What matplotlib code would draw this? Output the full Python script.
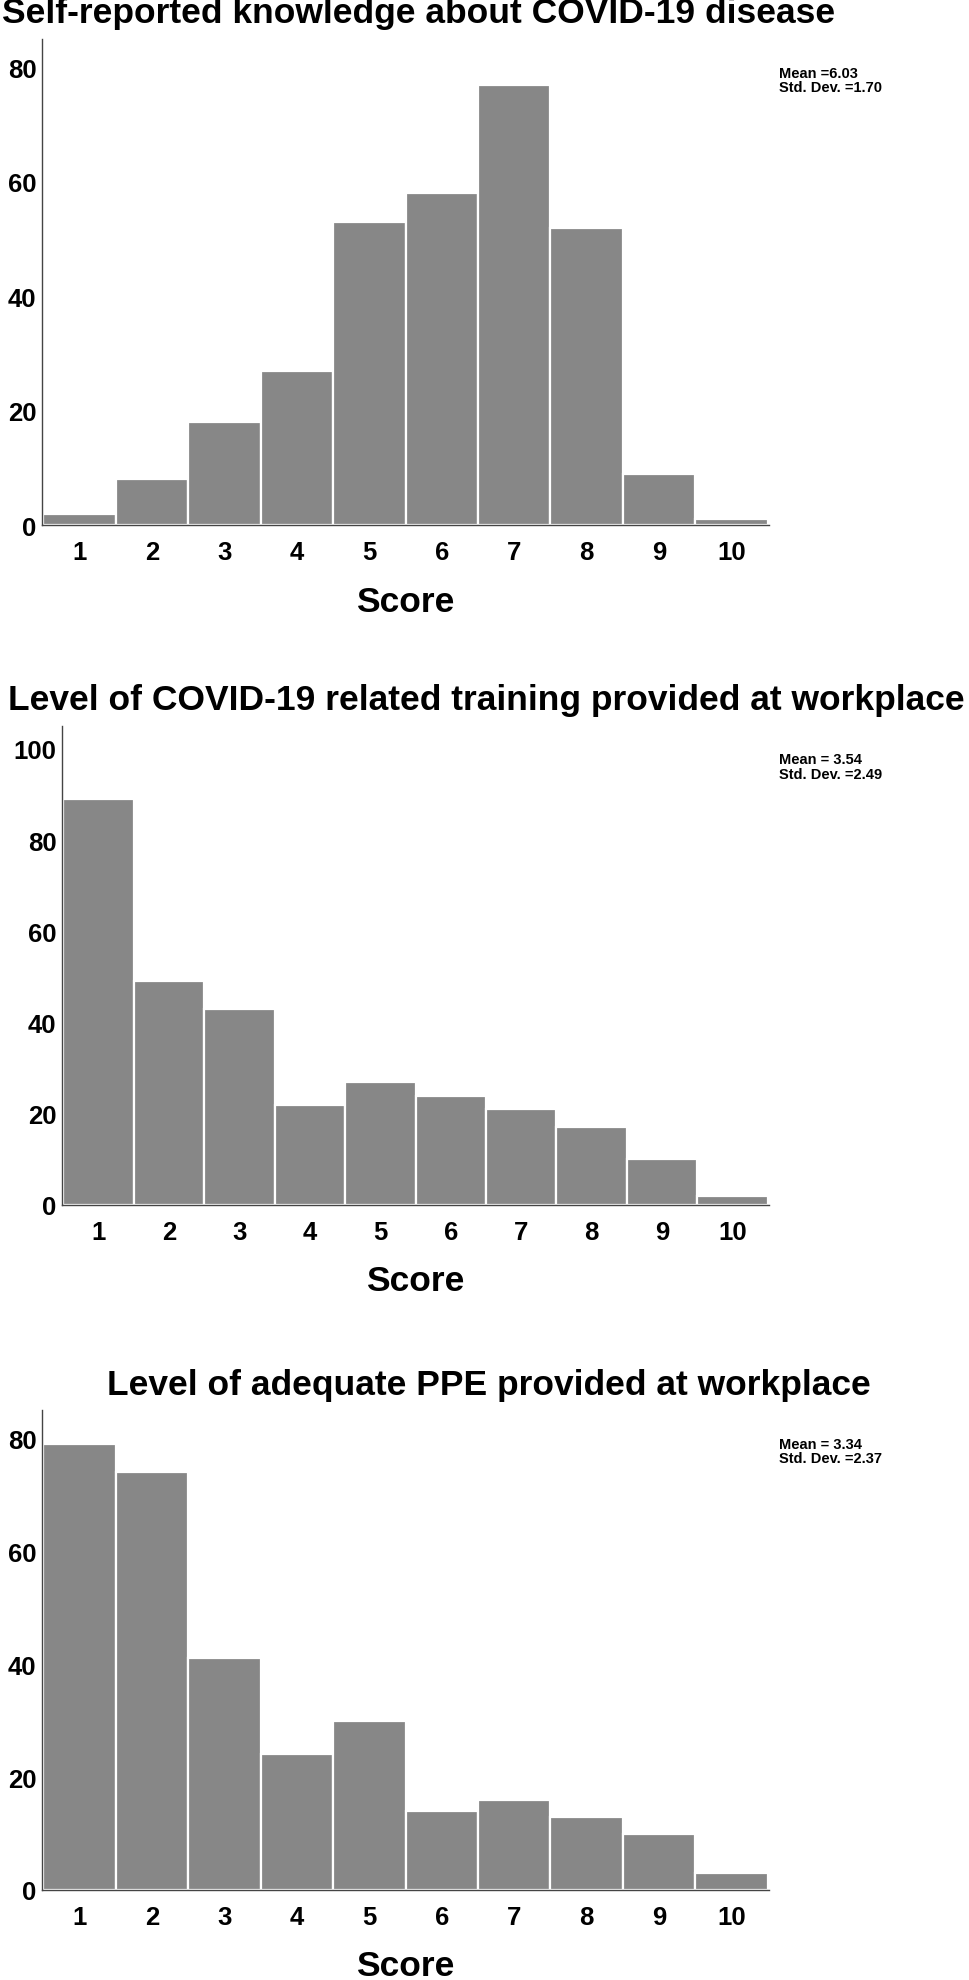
import matplotlib
matplotlib.use("Agg")
import matplotlib.pyplot as plt

plt.rcParams['font.family'] = ['Liberation Sans', 'DejaVu Sans']
plt.rcParams['font.weight'] = 'bold'

scores = [1, 2, 3, 4, 5, 6, 7, 8, 9, 10]
knowledge_counts = [2, 8, 18, 27, 53, 58, 77, 52, 9, 1]
training_counts = [89, 49, 43, 22, 27, 24, 21, 17, 10, 2]
ppe_counts = [79, 74, 41, 24, 30, 14, 16, 13, 10, 3]

titles = ["Self-reported knowledge about COVID-19 disease",
          "Level of COVID-19 related training provided at workplace",
          "Level of adequate PPE provided at workplace"]
stats = [("Mean =6.03", "Std. Dev. =1.70"),
         ("Mean = 3.54", "Std. Dev. =2.49"),
         ("Mean = 3.34", "Std. Dev. =2.37")]
yticks_list = [[0, 20, 40, 60, 80], [0, 20, 40, 60, 80, 100], [0, 20, 40, 60, 80]]
ylims = [85, 105, 85]
series = [knowledge_counts, training_counts, ppe_counts]

W, H = 969, 1981
fig = plt.figure(figsize=(W / 100, H / 100), dpi=100)

# axes boxes in pixels: left, right, top, bottom
boxes = [(42, 769, 40, 526), (62, 769, 727, 1206), (42, 769, 1411, 1891)]
title_pos = [(419, 23.5), (486, 710), (489, 1395)]
stat_pos = [(779, 74, 88), (779, 760, 775), (779, 1445, 1459)]

bar_color = "#878787"
for i in range(3):
    l, r, t, b = boxes[i]
    ax = fig.add_axes([l / W, 1 - b / H, (r - l) / W, (b - t) / H])
    ax.bar(scores, series[i], width=1.0, color=bar_color, edgecolor="white", linewidth=1.6)
    ax.set_xlim(0.48, 10.52)
    ax.set_ylim(0, ylims[i])
    ax.set_xticks(scores)
    ax.set_xticklabels([str(s) for s in scores], fontsize=18.5, fontweight='bold')
    ax.set_yticks(yticks_list[i])
    ax.set_yticklabels([str(v) for v in yticks_list[i]], fontsize=18.5, fontweight='bold')
    ax.tick_params(axis='both', length=0)
    ax.tick_params(axis='x', pad=11)
    ax.tick_params(axis='y', pad=4)
    for s in ['top', 'right']:
        ax.spines[s].set_visible(False)
    for s in ['left', 'bottom']:
        ax.spines[s].set_color("#444444")
        ax.spines[s].set_linewidth(1.0)
    ax.text(0.5, -76 / (b - t), "Score", transform=ax.transAxes, ha='center', va='center',
            fontsize=25.5, fontweight='bold')
    tx, ty = title_pos[i]
    fig.text(tx / W, 1 - ty / H, titles[i], ha='center', va='baseline', fontsize=25.5, fontweight='bold')
    sx, sy1, sy2 = stat_pos[i]
    fig.text(sx / W, 1 - sy1 / H, stats[i][0], ha='left', va='center', fontsize=10.5, fontweight='bold')
    fig.text(sx / W, 1 - sy2 / H, stats[i][1], ha='left', va='center', fontsize=10.5, fontweight='bold')

fig.savefig("out.png", dpi=100, facecolor="white")
